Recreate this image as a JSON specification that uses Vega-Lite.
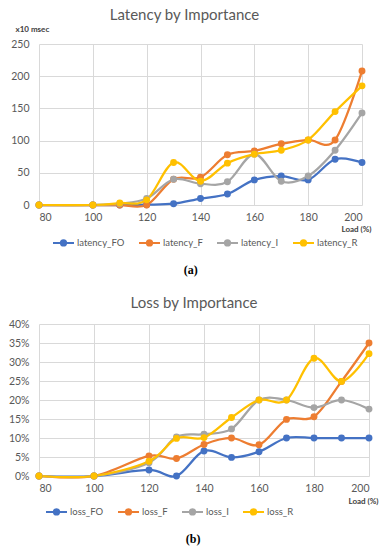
{
  "$schema": "https://vega.github.io/schema/vega-lite/v6.json",
  "padding": {"left": 8, "top": 8, "right": 6, "bottom": 2},
  "background": "white",
  "config": {
    "font": "Lato",
    "view": {"stroke": null},
    "axis": {
      "grid": true,
      "gridColor": "#D9D9D9",
      "gridWidth": 1,
      "domain": false,
      "ticks": false,
      "labelColor": "#595959",
      "labelFontSize": 10.5,
      "titleColor": "#404040",
      "titleFontSize": 8,
      "titleFontWeight": "bold"
    },
    "legend": {
      "labelColor": "#595959",
      "labelFontSize": 9.5,
      "labelOffset": 2,
      "orient": "none",
      "direction": "horizontal",
      "title": null,
      "columnPadding": 10,
      "symbolStrokeWidth": 2,
      "symbolType": "M-1,0H1M-0.25,0A0.25,0.25 0 1,1 0.25,0A0.25,0.25 0 1,1 -0.25,0",
      "symbolSize": 441
    },
    "title": {"color": "#595959", "fontWeight": "normal"}
  },
  "datasets": {
    "lat": [
      {"load": 80, "series": "latency_FO", "v": 0},
      {"load": 100, "series": "latency_FO", "v": 0},
      {"load": 110, "series": "latency_FO", "v": 0},
      {"load": 120, "series": "latency_FO", "v": 0.5},
      {"load": 130, "series": "latency_FO", "v": 2},
      {"load": 140, "series": "latency_FO", "v": 10},
      {"load": 150, "series": "latency_FO", "v": 17},
      {"load": 160, "series": "latency_FO", "v": 39},
      {"load": 170, "series": "latency_FO", "v": 45},
      {"load": 180, "series": "latency_FO", "v": 39},
      {"load": 190, "series": "latency_FO", "v": 71},
      {"load": 200, "series": "latency_FO", "v": 66},
      {"load": 80, "series": "latency_F", "v": 0},
      {"load": 100, "series": "latency_F", "v": 0},
      {"load": 110, "series": "latency_F", "v": 0},
      {"load": 120, "series": "latency_F", "v": 0},
      {"load": 130, "series": "latency_F", "v": 40},
      {"load": 140, "series": "latency_F", "v": 43},
      {"load": 150, "series": "latency_F", "v": 78},
      {"load": 160, "series": "latency_F", "v": 84},
      {"load": 170, "series": "latency_F", "v": 95},
      {"load": 180, "series": "latency_F", "v": 101},
      {"load": 190, "series": "latency_F", "v": 101},
      {"load": 200, "series": "latency_F", "v": 208},
      {"load": 80, "series": "latency_I", "v": 0},
      {"load": 100, "series": "latency_I", "v": 0},
      {"load": 110, "series": "latency_I", "v": 2},
      {"load": 120, "series": "latency_I", "v": 10},
      {"load": 130, "series": "latency_I", "v": 40},
      {"load": 140, "series": "latency_I", "v": 33},
      {"load": 150, "series": "latency_I", "v": 36},
      {"load": 160, "series": "latency_I", "v": 79},
      {"load": 170, "series": "latency_I", "v": 37},
      {"load": 180, "series": "latency_I", "v": 45},
      {"load": 190, "series": "latency_I", "v": 85},
      {"load": 200, "series": "latency_I", "v": 143},
      {"load": 80, "series": "latency_R", "v": 0},
      {"load": 100, "series": "latency_R", "v": 0},
      {"load": 110, "series": "latency_R", "v": 3},
      {"load": 120, "series": "latency_R", "v": 8},
      {"load": 130, "series": "latency_R", "v": 66},
      {"load": 140, "series": "latency_R", "v": 37},
      {"load": 150, "series": "latency_R", "v": 65},
      {"load": 160, "series": "latency_R", "v": 79},
      {"load": 170, "series": "latency_R", "v": 85},
      {"load": 180, "series": "latency_R", "v": 101},
      {"load": 190, "series": "latency_R", "v": 145},
      {"load": 200, "series": "latency_R", "v": 185}
    ],
    "loss": [
      {"load": 80, "series": "loss_FO", "v": 0},
      {"load": 100, "series": "loss_FO", "v": 0},
      {"load": 120, "series": "loss_FO", "v": 0.016},
      {"load": 130, "series": "loss_FO", "v": 0},
      {"load": 140, "series": "loss_FO", "v": 0.066},
      {"load": 150, "series": "loss_FO", "v": 0.049},
      {"load": 160, "series": "loss_FO", "v": 0.064},
      {"load": 170, "series": "loss_FO", "v": 0.1},
      {"load": 180, "series": "loss_FO", "v": 0.1},
      {"load": 190, "series": "loss_FO", "v": 0.1},
      {"load": 200, "series": "loss_FO", "v": 0.1},
      {"load": 80, "series": "loss_F", "v": 0},
      {"load": 100, "series": "loss_F", "v": 0},
      {"load": 120, "series": "loss_F", "v": 0.053},
      {"load": 130, "series": "loss_F", "v": 0.046},
      {"load": 140, "series": "loss_F", "v": 0.083},
      {"load": 150, "series": "loss_F", "v": 0.1},
      {"load": 160, "series": "loss_F", "v": 0.082},
      {"load": 170, "series": "loss_F", "v": 0.149},
      {"load": 180, "series": "loss_F", "v": 0.156},
      {"load": 190, "series": "loss_F", "v": 0.249},
      {"load": 200, "series": "loss_F", "v": 0.35},
      {"load": 80, "series": "loss_I", "v": 0},
      {"load": 100, "series": "loss_I", "v": 0},
      {"load": 120, "series": "loss_I", "v": 0.035},
      {"load": 130, "series": "loss_I", "v": 0.103},
      {"load": 140, "series": "loss_I", "v": 0.11},
      {"load": 150, "series": "loss_I", "v": 0.124},
      {"load": 160, "series": "loss_I", "v": 0.2},
      {"load": 170, "series": "loss_I", "v": 0.2},
      {"load": 180, "series": "loss_I", "v": 0.18},
      {"load": 190, "series": "loss_I", "v": 0.2},
      {"load": 200, "series": "loss_I", "v": 0.176},
      {"load": 80, "series": "loss_R", "v": 0},
      {"load": 100, "series": "loss_R", "v": 0},
      {"load": 120, "series": "loss_R", "v": 0.039},
      {"load": 130, "series": "loss_R", "v": 0.099},
      {"load": 140, "series": "loss_R", "v": 0.101},
      {"load": 150, "series": "loss_R", "v": 0.154},
      {"load": 160, "series": "loss_R", "v": 0.2},
      {"load": 170, "series": "loss_R", "v": 0.2},
      {"load": 180, "series": "loss_R", "v": 0.31},
      {"load": 190, "series": "loss_R", "v": 0.249},
      {"load": 200, "series": "loss_R", "v": 0.322}
    ]
  },
  "spacing": 20,
  "vconcat": [
    {
      "title": {"text": "(a)", "orient": "bottom", "anchor": "middle", "font": "Liberation Serif", "fontSize": 12, "fontWeight": "bold", "color": "#000000", "offset": 15},
      "vconcat": [
        {
          "title": {"text": "Latency by Importance", "fontSize": 15, "anchor": "middle", "dx": -16, "offset": 2},
          "width": 323,
          "height": 161,
          "data": {"name": "lat"},
          "encoding": {
            "x": {"field": "load", "type": "quantitative", "scale": {"domain": [80, 200], "nice": false, "zero": false},
              "axis": {"values": [80, 100, 120, 140, 160, 180, 200], "labelPadding": 7, "title": "Load (%)", "titleAlign": "right", "titleX": 332, "titleY": 24, "titleBaseline": "middle"}},
            "y": {"field": "v", "type": "quantitative", "scale": {"domain": [0, 250], "nice": false},
              "axis": {"values": [0, 50, 100, 150, 200, 250], "labelPadding": 10, "title": "x10 msec", "titleAngle": 0, "titleAlign": "left", "titleX": -24, "titleY": -15, "titleBaseline": "middle"}},
            "color": {"field": "series", "type": "nominal",
              "scale": {"domain": ["latency_FO", "latency_F", "latency_I", "latency_R"], "range": ["#4472C4", "#ED7D31", "#A5A5A5", "#FFC000"]},
              "legend": {"legendX": 13, "legendY": 187, "encode": {"symbols": {"update": {"fill": {"scale": "color", "field": "value"}, "stroke": {"scale": "color", "field": "value"}}}}}}
          },
          "layer": [
            {"mark": {"type": "line", "interpolate": "cardinal", "strokeWidth": 2.25}},
            {"mark": {"type": "point", "filled": true, "opacity": 1, "size": 48}}
          ]
        }
      ]
    },
    {
      "title": {"text": "(b)", "orient": "bottom", "anchor": "middle", "font": "Liberation Serif", "fontSize": 12, "fontWeight": "bold", "color": "#000000", "offset": 15},
      "vconcat": [
        {
          "title": {"text": "Loss by Importance", "fontSize": 15, "anchor": "middle", "dx": -10, "offset": 8},
          "width": 330,
          "height": 152,
          "data": {"name": "loss"},
          "encoding": {
            "x": {"field": "load", "type": "quantitative", "scale": {"domain": [80, 200], "nice": false, "zero": false},
              "axis": {"values": [80, 100, 120, 140, 160, 180, 200], "labelPadding": 7, "title": "Load (%)", "titleAlign": "right", "titleX": 339, "titleY": 25, "titleBaseline": "middle"}},
            "y": {"field": "v", "type": "quantitative", "scale": {"domain": [0, 0.4], "nice": false},
              "axis": {"values": [0, 0.05, 0.1, 0.15, 0.2, 0.25, 0.3, 0.35, 0.4], "format": ".0%", "labelPadding": 10, "title": null}},
            "color": {"field": "series", "type": "nominal",
              "scale": {"domain": ["loss_FO", "loss_F", "loss_I", "loss_R"], "range": ["#4472C4", "#ED7D31", "#A5A5A5", "#FFC000"]},
              "legend": {"legendX": 6, "legendY": 176, "encode": {"symbols": {"update": {"fill": {"scale": "color", "field": "value"}, "stroke": {"scale": "color", "field": "value"}}}}}}
          },
          "layer": [
            {"mark": {"type": "line", "interpolate": "cardinal", "strokeWidth": 2.25}},
            {"mark": {"type": "point", "filled": true, "opacity": 1, "size": 48}}
          ]
        }
      ]
    }
  ],
  "resolve": {"scale": {"color": "independent"}}
}
